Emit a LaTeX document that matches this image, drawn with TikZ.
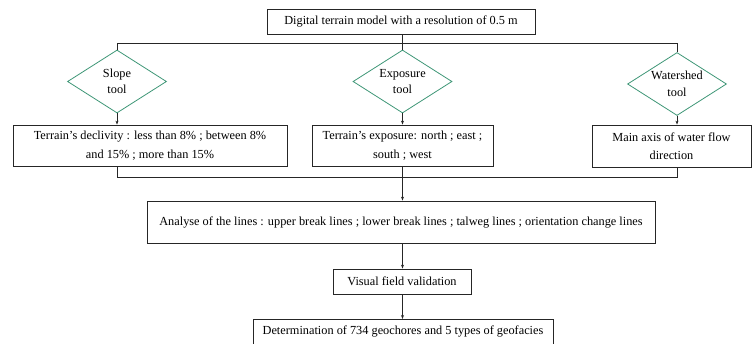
\documentclass[tikz,border=0pt]{standalone}
\usepackage{fontspec}
\setmainfont{Liberation Serif}
\usetikzlibrary{shapes.geometric,arrows.meta}
\definecolor{dgreen}{RGB}{62,150,118}
\begin{document}
\begin{tikzpicture}[x=1pt,y=-1pt,
  box/.style={draw=black!85,line width=0.8pt,inner sep=0pt,align=center,font=\fontsize{12.3}{18.5}\selectfont},
  tool/.style={draw=dgreen,line width=0.8pt,diamond,aspect=1.57,minimum width=99pt,minimum height=63pt,inner sep=0pt,align=center,font=\fontsize{12.3}{16.5}\selectfont},
  conn/.style={draw=black!85,line width=0.8pt},
  arr/.style={conn,-{Stealth[length=4pt,width=3pt]}}]
\useasboundingbox (0,0) rectangle (754,343);
\node[box,minimum width=268pt,minimum height=25pt] (dtm) at (401,21.7) {Digital terrain model with a resolution of 0.5 m};
\node[tool] (slope) at (117,81.5) {Slope\\tool};
\node[tool] (expo) at (402.5,81.5) {Exposure\\tool};
\node[tool] (wat) at (677,84) {Watershed\\tool};
\node[box,minimum width=274pt,minimum height=41pt] (sbox) at (150,145.5) {Terrain’s declivity : less than 8\% ; between 8\%\\and 15\% ; more than 15\%};
\node[box,minimum width=181pt,minimum height=41pt] (ebox) at (402.5,145.5) {Terrain’s exposure: north ; east ;\\south ; west};
\node[box,minimum width=159pt,minimum height=42pt] (wbox) at (671.5,146) {Main axis of water flow\\direction};
\node[box,minimum width=508pt,minimum height=42pt] (anal) at (401,222) {Analyse of the lines : upper break lines ; lower break lines ; talweg lines ; orientation change lines};
\node[box,minimum width=138pt,minimum height=25pt] (vis) at (402,281.5) {Visual field validation};
\node[box,minimum width=300pt,minimum height=50pt,anchor=north] (det) at (403,319) {};
\node[font=\fontsize{12.3}{15}\selectfont,inner sep=0pt] (dettext) at (403,331) {Determination of 734 geochores and 5 types of geofacies};
\coordinate (j1) at (402.5,43);
\coordinate (j2) at (402.5,177);
\draw[conn] (dtm.south -| j1) -- (j1);
\draw[conn] (slope.north) -- (slope.north |- j1) -- (wat.north |- j1) -- (wat.north);
\draw[conn] (expo.north) -- (j1);
\draw[arr] (slope.south) -- (slope.south |- sbox.north);
\draw[arr] (expo.south) -- (expo.south |- ebox.north);
\draw[arr] (wat.south) -- (wat.south |- wbox.north);
\draw[conn] (slope.south |- sbox.south) -- (slope.south |- j2) -- (wat.south |- j2) -- (wat.south |- wbox.south);
\draw[conn] (ebox.south) -- (j2);
\draw[arr] (j2) -- (j2 |- anal.north);
\draw[arr] (anal.south -| j2) -- (j2 |- vis.north);
\draw[arr] (vis.south -| j2) -- (j2 |- det.north);
\end{tikzpicture}
\end{document}
